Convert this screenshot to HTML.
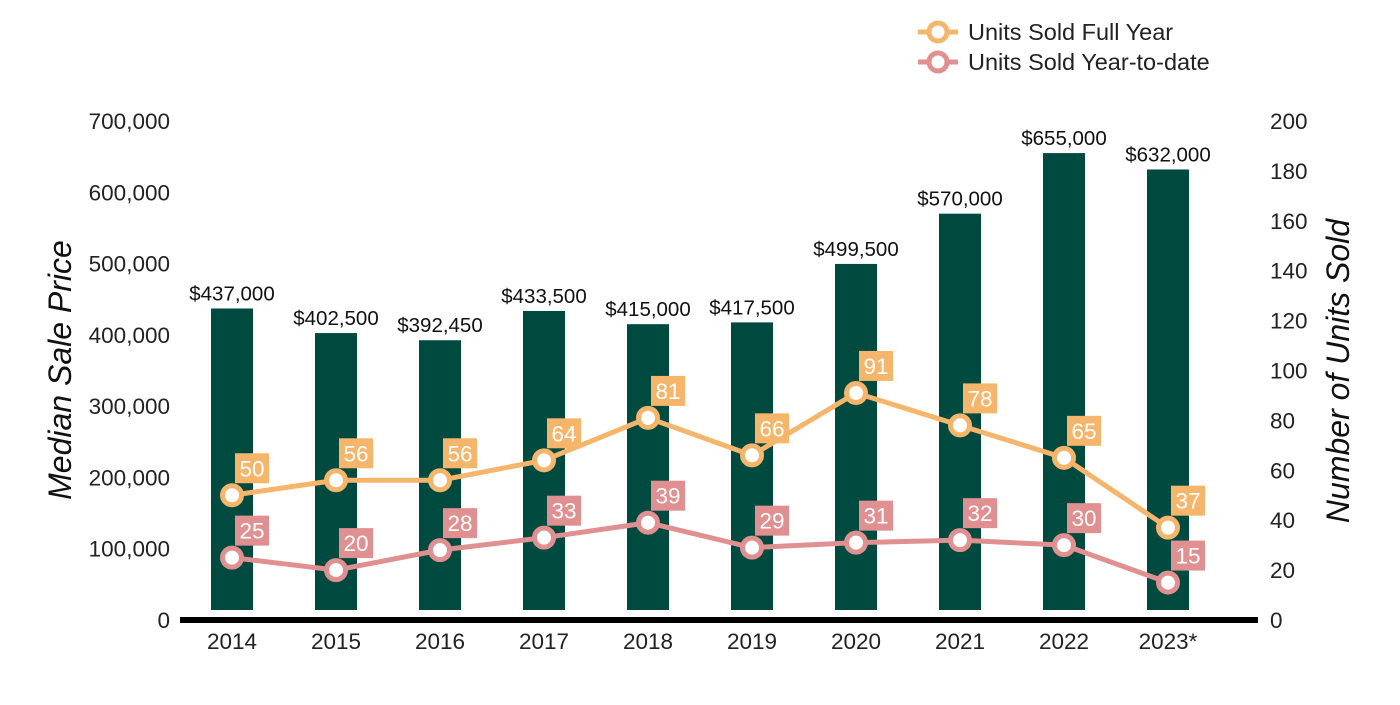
<!DOCTYPE html>
<html><head><meta charset="utf-8"><style>
body{margin:0;background:#fff;}
text{font-family:"Liberation Sans",Arial,sans-serif;}
</style></head><body>
<svg id="chart" width="1400" height="700" xmlns="http://www.w3.org/2000/svg">
<g id="legend">
 <g>
  <line x1="918" y1="32" x2="958" y2="32" stroke="#f5b66b" stroke-width="5"/>
  <circle cx="938" cy="32" r="9" fill="#fff" stroke="#f5b66b" stroke-width="5"/>
  <text x="968" y="40" font-size="23.5" fill="#222">Units Sold Full Year</text>
 </g>
 <g>
  <line x1="918" y1="62" x2="958" y2="62" stroke="#e09090" stroke-width="5"/>
  <circle cx="938" cy="62" r="9" fill="#fff" stroke="#e09090" stroke-width="5"/>
  <text x="968" y="70" font-size="23.5" fill="#222">Units Sold Year-to-date</text>
 </g>
</g>
<text transform="translate(71,370) rotate(-90)" text-anchor="middle" font-size="32" font-style="italic" fill="#111">Median Sale Price</text>
<text transform="translate(1349,371) rotate(-90)" text-anchor="middle" font-size="32" font-style="italic" fill="#111">Number of Units Sold</text>
<g id="g"></g>
</svg>
<script>
const years=["2014","2015","2016","2017","2018","2019","2020","2021","2022","2023*"];
const prices=[437000,402500,392450,433500,415000,417500,499500,570000,655000,632000];
const priceLabels=["$437,000","$402,500","$392,450","$433,500","$415,000","$417,500","$499,500","$570,000","$655,000","$632,000"];
const fullYear=[50,56,56,64,81,66,91,78,65,37];
const ytd=[25,20,28,33,39,29,31,32,30,15];
const leftTicks=[0,100000,200000,300000,400000,500000,600000,700000];
const rightTicks=[0,20,40,60,80,100,120,140,160,180,200];

const NS="http://www.w3.org/2000/svg";
const g=document.getElementById('g');
const y0=620,y1=121;
const yL=v=>y0-(v/700000)*(y0-y1);
const yR=v=>y0-(v/200)*(y0-y1);
const xC=i=>232+i*104;
function mk(t,a,p){const e=document.createElementNS(NS,t);for(const k in a)e.setAttribute(k,a[k]);(p||g).appendChild(e);return e;}
leftTicks.forEach(v=>{const t=mk('text',{x:170,y:yL(v)+8,'text-anchor':'end','font-size':22.5,fill:'#222'});t.textContent=v.toLocaleString('en-US');

});
rightTicks.forEach(v=>{const t=mk('text',{x:1270,y:yR(v)+8,'font-size':22.5,fill:'#222'});t.textContent=v;

});
prices.forEach((v,i)=>{const top=yL(v);const r=mk('rect',{x:xC(i)-21,y:top,width:42,height:Math.max(0,610-top),fill:'#004a40'});


const t=mk('text',{x:xC(i),y:top-8,'text-anchor':'middle','font-size':20.5,fill:'#111'});t.textContent=priceLabels[i];

});
const ax=mk('rect',{x:180,y:617,width:1078,height:6,fill:'#000'});


years.forEach((y,i)=>{const t=mk('text',{x:xC(i),y:649,'text-anchor':'middle','font-size':22.5,fill:'#222'});t.textContent=y;

});
function series(data,color,name){
 const pl=mk('polyline',{points:data.map((v,i)=>xC(i)+','+yR(v)).join(' '),fill:'none',stroke:color,'stroke-width':5});
 
 
 data.forEach((v,i)=>{const x=xC(i),y=yR(v);
  const c=mk('circle',{cx:x,cy:y,r:9.5,fill:'#fff',stroke:color,'stroke-width':5});
  
  
  const w=String(v).length*12+10;
  const b=mk('rect',{x:x+3,y:y-42,width:w,height:30,fill:color});
  
  
  const t=mk('text',{x:x+3+w/2,y:y-19,'text-anchor':'middle','font-size':22.5,fill:'#fff'});t.textContent=v;
  
  
 });
}
series(fullYear,'#f5b66b','full-year');
series(ytd,'#e09090','ytd');
</script>
</body></html>
